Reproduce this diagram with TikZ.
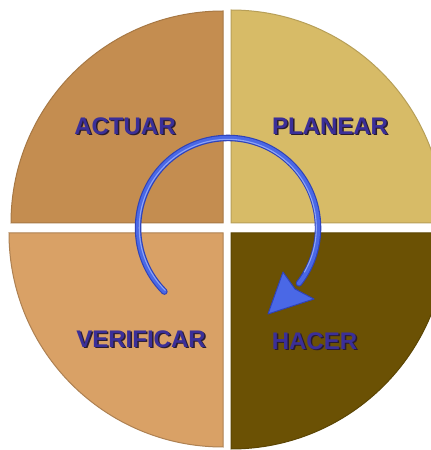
\documentclass[tikz,border=0pt]{standalone}
\usepackage{fontspec}
\setmainfont{Liberation Sans}
\definecolor{qtl}{HTML}{C48D50}
\definecolor{qtr}{HTML}{D7BB67}
\definecolor{qbl}{HTML}{D9A166}
\definecolor{qbr}{HTML}{6B5104}
\definecolor{lblblue}{HTML}{3B2F98}
\definecolor{lblshadow}{HTML}{2A1C30}
\definecolor{arrdark}{HTML}{2E42B8}
\definecolor{arrmid}{HTML}{4A68E6}
\definecolor{arrlight}{HTML}{8EA4F4}
\begin{document}
\begin{tikzpicture}[x=1pt,y=1pt,
  quad/.style={line width=1pt},
  lbl/.style={font=\bfseries\fontsize{24}{24}\selectfont, text=lblblue, draw=none, inner sep=0pt},
  lblsh/.style={font=\bfseries\fontsize{24}{24}\selectfont, text=lblshadow, inner sep=0pt}]
\useasboundingbox (0,0) rectangle (431,450);
\fill[white] (0,0) rectangle (431,450);
\clip (0,0) rectangle (431,450);
% quadrants
\filldraw[quad, fill=qtl, draw=qtl!85!black] (223,227) -- ++(-212,0) arc[start angle=180,end angle=90,radius=212] -- cycle;
\filldraw[quad, fill=qtr, draw=qtr!85!black] (231,227) -- ++(0,213) arc[start angle=90,end angle=0,radius=213] -- cycle;
\filldraw[quad, fill=qbl, draw=qbl!80!black] (223,217) -- ++(-214,0) arc[start angle=180,end angle=270,radius=214] -- cycle;
\filldraw[quad, fill=qbr, draw=qbr!85!black] (231,217) -- ++(0,-216) arc[start angle=270,end angle=360,radius=216] -- cycle;
% labels
\node[lblsh] at (126.5,322.5) {ACTUAR};
\node[lbl] (actuar) at (125,324) {ACTUAR};
\node[lblsh] at (331.5,322.5) {PLANEAR};
\node[lbl] (planear) at (330,324) {PLANEAR};
\node[lblsh] at (142.5,109.5) {VERIFICAR};
\node[lbl] (verificar) at (141,111) {VERIFICAR};
\node[lblsh] at (316,107.5) {HACER};
\node[lbl] (hacer) at (314.5,109) {HACER};
% cycle arrow
\coordinate (tail) at (164.4,158.4);
\coordinate (tip) at (268,136);
\coordinate (c1) at (283,178);
\coordinate (c2) at (314,151);
\coordinate (notch) at (295,161);
\draw[arrdark, line width=6.5pt, line cap=round] (tail) arc[start angle=225,end angle=-38,radius=90];
\draw[arrmid, line width=4.2pt, line cap=round] (tail) arc[start angle=225,end angle=-38,radius=90];
\draw[arrlight, line width=1.1pt, line cap=round] ([shift={(0.8,1.2)}]tail) arc[start angle=225,end angle=-30,radius=88.5];
\filldraw[fill=arrmid, draw=arrdark, line width=1pt, line join=round] (tip) -- (c1) -- (notch) -- (c2) -- cycle;
\end{tikzpicture}
\end{document}
